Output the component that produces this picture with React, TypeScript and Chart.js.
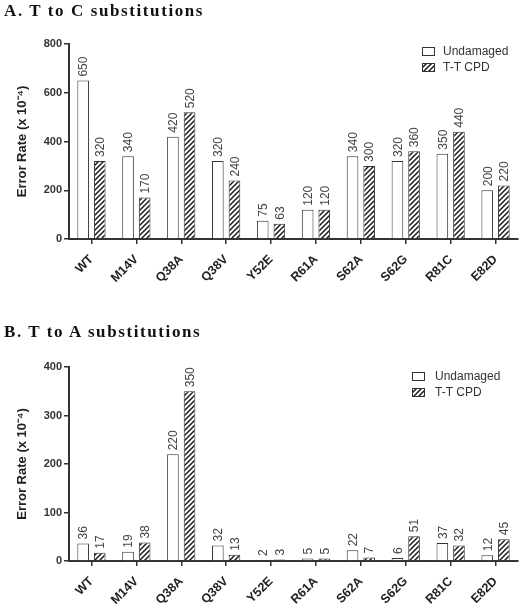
import React, { useEffect, useRef } from "react";
import { Chart, registerables } from "chart.js";

Chart.register(...registerables);

// ---------- data ----------
const categories = ["WT", "M14V", "Q38A", "Q38V", "Y52E", "R61A", "S62A", "S62G", "R81C", "E82D"];
const seriesNames = ["Undamaged", "T-T CPD"];
const tcUndamaged = [650, 340, 420, 320, 75, 120, 340, 320, 350, 200];
const tcCpd = [320, 170, 520, 240, 63, 120, 300, 360, 440, 220];
const taUndamaged = [36, 19, 220, 32, 2, 5, 22, 6, 37, 12];
const taCpd = [17, 38, 350, 13, 3, 5, 7, 51, 32, 45];
const tcAxisMax = 800;
const tcAxisStep = 200;
const taAxisMax = 400;
const taAxisStep = 100;
const panelTitles = ["A. T to C substitutions", "B. T to A substitutions"];
const yAxisTitle = "Error Rate (x 10\u207B\u2074)";

const SANS = "Arial, 'Liberation Sans', sans-serif";
const INK = "#333";

function makeHatch(): CanvasPattern | string {
  const s = 5;
  const c = document.createElement("canvas");
  c.width = s;
  c.height = s;
  const g = c.getContext("2d");
  if (!g) return "#999";
  g.fillStyle = "#fff";
  g.fillRect(0, 0, s, s);
  g.strokeStyle = "#1a1a1a";
  g.lineWidth = 1.5;
  g.beginPath();
  g.moveTo(-1, s + 1);
  g.lineTo(s + 1, -1);
  g.moveTo(-1, 1);
  g.lineTo(1, -1);
  g.moveTo(s - 1, s + 1);
  g.lineTo(s + 1, s - 1);
  g.stroke();
  return g.createPattern(c, "repeat") || "#999";
}

const valueLabels = {
  id: "valueLabels",
  afterDatasetsDraw(chart: any) {
    const ctx = chart.ctx as CanvasRenderingContext2D;
    ctx.save();
    ctx.font = `12px ${SANS}`;
    ctx.fillStyle = "#444";
    ctx.textAlign = "left";
    ctx.textBaseline = "alphabetic";
    chart.data.datasets.forEach((ds: any, i: number) => {
      const meta = chart.getDatasetMeta(i);
      meta.data.forEach((bar: any, j: number) => {
        ctx.save();
        ctx.translate(bar.x, bar.y - 4);
        ctx.rotate(-Math.PI / 2);
        ctx.fillText(String(ds.data[j]), 0, 4.3);
        ctx.restore();
      });
    });
    ctx.restore();
  },
};

const boxLegend = {
  id: "boxLegend",
  afterDraw(chart: any, _args: any, opts: any) {
    const ctx = chart.ctx as CanvasRenderingContext2D;
    const area = chart.chartArea;
    ctx.save();
    chart.data.datasets.forEach((ds: any, i: number) => {
      const x = Math.round(area.right - opts.right);
      const y = Math.round(area.top + opts.top + i * 16);
      ctx.fillStyle = ds.backgroundColor;
      ctx.fillRect(x, y, 12, 8);
      ctx.strokeStyle = ds.borderColor;
      ctx.lineWidth = 1;
      ctx.strokeRect(x + 0.5, y + 0.5, 12, 8);
      ctx.fillStyle = INK;
      ctx.font = `12px ${SANS}`;
      ctx.textBaseline = "middle";
      ctx.textAlign = "left";
      ctx.fillText(ds.label, x + opts.gap, y + 4.5);
    });
    ctx.restore();
  },
};

function buildConfig(
  undamaged: number[],
  cpd: number[],
  max: number,
  step: number,
  padTop: number,
  xHeight: number,
  legend: { right: number; top: number; gap: number }
): any {
  const hatch = makeHatch();
  return {
    type: "bar",
    data: {
      labels: categories,
      datasets: [
        { label: seriesNames[0], data: undamaged, backgroundColor: "#fff", borderColor: INK, borderWidth: 1 },
        { label: seriesNames[1], data: cpd, backgroundColor: hatch, borderColor: INK, borderWidth: 1 },
      ],
    },
    options: {
      responsive: false,
      animation: false,
      devicePixelRatio: 1,
      layout: { padding: { left: 0, top: padTop, right: 5, bottom: 0 } },
      datasets: { bar: { categoryPercentage: 0.74, barPercentage: 0.7 } },
      plugins: {
        legend: { display: false },
        tooltip: { enabled: false },
        boxLegend: legend,
      },
      scales: {
        x: {
          grid: {
            display: true,
            offset: false,
            drawOnChartArea: false,
            drawTicks: true,
            tickLength: 5,
            color: INK,
            lineWidth: 1.5,
          },
          border: { display: true, color: INK, width: 2 },
          ticks: {
            font: { family: SANS, size: 12.5, weight: "bold" },
            color: "#222",
            minRotation: 45,
            maxRotation: 45,
            autoSkip: false,
            padding: 8,
          },
          afterFit: (s: any) => {
            s.height = xHeight;
          },
        },
        y: {
          min: 0,
          max,
          ticks: {
            stepSize: step,
            font: { family: SANS, size: 11, weight: "bold" },
            color: INK,
            padding: 2,
          },
          grid: {
            display: true,
            drawOnChartArea: false,
            drawTicks: true,
            tickLength: 5,
            color: INK,
            lineWidth: 1.5,
          },
          border: { display: true, color: INK, width: 2 },
          title: {
            display: true,
            text: yAxisTitle,
            font: { family: SANS, size: 13, weight: "bold" },
            color: "#222",
            padding: { top: 15, bottom: 0 },
          },
          afterFit: (s: any) => {
            s.width = 69;
          },
        },
      },
    },
    plugins: [valueLabels, boxLegend],
  };
}

function Panel(props: {
  top: number;
  height: number;
  config: () => any;
}) {
  const ref = useRef<HTMLCanvasElement | null>(null);
  useEffect(() => {
    if (!ref.current) return;
    const chart = new Chart(ref.current, props.config());
    return () => chart.destroy();
  }, []);
  return (
    <canvas
      ref={ref}
      width={523}
      height={props.height}
      style={{ position: "absolute", left: 0, top: props.top, width: 523, height: props.height }}
    />
  );
}

const titleStyle: React.CSSProperties = {
  position: "absolute",
  left: 4,
  margin: 0,
  fontFamily: "'Liberation Serif', 'Times New Roman', serif",
  fontWeight: "bold",
  fontSize: 17,
  lineHeight: "17px",
  letterSpacing: "1.6px",
  color: "#111",
  whiteSpace: "nowrap",
};

export default function App() {
  return (
    <div style={{ position: "absolute", left: 0, top: 0, width: 523, height: 605, background: "#fff", overflow: "hidden" }}>
      <Panel
        top={0}
        height={300}
        config={() => buildConfig(tcUndamaged, tcCpd, tcAxisMax, tcAxisStep, 44, 61, { right: 96, top: 3, gap: 21 })}
      />
      <Panel
        top={300}
        height={305}
        config={() => buildConfig(taUndamaged, taCpd, taAxisMax, taAxisStep, 67, 44, { right: 106, top: 5, gap: 23 })}
      />
      <div style={{ ...titleStyle, top: 2 }}>{panelTitles[0]}</div>
      <div style={{ ...titleStyle, top: 323 }}>{panelTitles[1]}</div>
    </div>
  );
}
